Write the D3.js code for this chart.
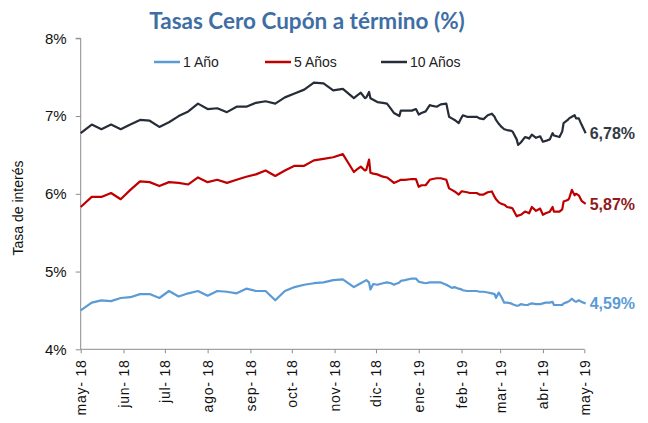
<!DOCTYPE html>
<html><head><meta charset="utf-8">
<script src="https://cdn.jsdelivr.net/npm/d3@7"></script>
<style>
html,body{margin:0;padding:0;background:#fff;}
svg{display:block;}
</style></head>
<body>
<svg id="chart" width="648" height="423"></svg>
<script>
const dates = [
"2018-05-01","2018-05-09","2018-05-16","2018-05-23","2018-05-30","2018-06-06","2018-06-13","2018-06-20","2018-06-27",
"2018-07-04","2018-07-11","2018-07-18","2018-07-25","2018-08-01","2018-08-08","2018-08-15","2018-08-22","2018-08-29",
"2018-09-05","2018-09-12","2018-09-19","2018-09-26","2018-10-03","2018-10-10","2018-10-17","2018-10-24","2018-10-31","2018-11-07",
"2018-11-15","2018-11-17","2018-11-20","2018-11-23","2018-11-24","2018-11-26","2018-11-27","2018-11-29","2018-12-02","2018-12-06",
"2018-12-09","2018-12-12","2018-12-14","2018-12-18","2018-12-19","2018-12-22","2018-12-27","2018-12-30","2019-01-01","2019-01-03",
"2019-01-06","2019-01-09","2019-01-11","2019-01-14","2019-01-17","2019-01-21","2019-01-23","2019-01-25","2019-01-27","2019-01-30",
"2019-02-01","2019-02-02","2019-02-05","2019-02-07","2019-02-12","2019-02-14","2019-02-17","2019-02-20","2019-02-23","2019-02-25",
"2019-02-26","2019-02-28","2019-03-02","2019-03-04","2019-03-06","2019-03-09","2019-03-10","2019-03-13","2019-03-14","2019-03-16",
"2019-03-19","2019-03-21","2019-03-22","2019-03-24","2019-03-27","2019-03-30","2019-04-01","2019-04-03","2019-04-06","2019-04-08",
"2019-04-09","2019-04-13","2019-04-15","2019-04-16","2019-04-19","2019-04-20","2019-04-22","2019-04-24","2019-04-25","2019-04-27",
"2019-04-29","2019-05-02"
];
const tasa10 = [
6.78,6.89,6.83,6.89,6.83,6.89,6.95,6.94,6.86,
6.92,7.00,7.06,7.16,7.09,7.10,7.05,7.12,7.12,
7.17,7.19,7.16,7.24,7.29,7.34,7.43,7.42,7.33,7.35,
7.23,7.26,7.30,7.23,7.24,7.31,7.23,7.21,7.18,7.17,
7.16,7.09,7.04,7.00,7.07,7.07,7.07,7.09,7.02,7.04,
7.06,7.14,7.13,7.12,7.15,7.16,6.99,6.97,6.95,6.91,
6.98,7.01,6.99,6.99,6.99,6.97,6.96,7.01,7.03,6.99,
6.95,6.90,6.86,6.83,6.82,6.81,6.80,6.70,6.63,6.66,
6.73,6.72,6.71,6.76,6.72,6.74,6.67,6.68,6.70,6.78,
6.75,6.73,6.80,6.91,6.95,6.97,6.99,7.01,6.97,6.97,
6.89,6.78
];
const tasa5 = [
5.83,5.96,5.96,6.01,5.93,6.05,6.16,6.15,6.10,
6.15,6.14,6.12,6.21,6.15,6.18,6.14,6.18,6.22,
6.25,6.30,6.23,6.30,6.36,6.36,6.43,6.45,6.47,6.51,
6.28,6.31,6.35,6.30,6.31,6.44,6.27,6.26,6.25,6.22,
6.21,6.17,6.14,6.17,6.18,6.18,6.19,6.19,6.09,6.11,
6.11,6.18,6.19,6.20,6.20,6.18,6.07,6.05,6.03,5.99,
6.03,6.03,6.02,6.01,6.01,5.99,5.99,6.02,6.03,5.96,
5.93,5.89,5.87,5.86,5.83,5.82,5.81,5.71,5.72,5.73,
5.77,5.76,5.75,5.83,5.78,5.81,5.73,5.75,5.77,5.83,
5.77,5.77,5.80,5.90,5.92,5.94,6.05,5.98,6.00,5.98,
5.91,5.87
];
const tasa1 = [
4.50,4.60,4.63,4.62,4.66,4.67,4.71,4.71,4.66,
4.75,4.68,4.72,4.75,4.69,4.75,4.74,4.72,4.78,
4.75,4.75,4.63,4.75,4.80,4.83,4.85,4.86,4.89,4.90,
4.80,4.82,4.85,4.88,4.89,4.86,4.77,4.84,4.83,4.85,
4.86,4.85,4.83,4.86,4.88,4.89,4.91,4.91,4.87,4.86,
4.85,4.86,4.86,4.86,4.86,4.83,4.81,4.79,4.80,4.78,
4.77,4.76,4.75,4.75,4.75,4.74,4.74,4.73,4.72,4.71,
4.66,4.73,4.67,4.60,4.60,4.59,4.58,4.56,4.56,4.58,
4.57,4.57,4.58,4.59,4.58,4.58,4.59,4.60,4.60,4.61,
4.57,4.57,4.57,4.59,4.61,4.62,4.65,4.62,4.61,4.63,
4.61,4.59
];
const seriesNames = ["1 Año","5 Años","10 Años"];
const endLabels = ["4,59%","5,87%","6,78%"];
const monthLabels = ["may- 18","jun- 18","jul- 18","ago- 18","sep- 18","oct- 18","nov- 18","dic- 18","ene- 19","feb- 19","mar- 19","abr- 19","may- 19"];
const yTicks = [4,5,6,7,8];
const titleText = "Tasas Cero Cupón a término (%)";
const yAxisTitle = "Tasa de interés";

const colors = ["#5B9BD5","#C00000","#262D38"];
const labelColors = ["#5B9BD5","#8E1B1B","#333A44"];

const parse = d3.utcParse("%Y-%m-%d");
const dd = dates.map(parse);
const svg = d3.select("#chart");

const x = d3.scaleUtc().domain([parse("2018-05-01"), parse("2019-05-01")]).range([80.7, 584.3]);
const y = d3.scaleLinear().domain([4, 8]).range([349.3, 38.3]);

// title
svg.append("text").attr("x", 307).attr("y", 29).attr("text-anchor","middle")
  .attr("font-family","Lato, 'Open Sans', sans-serif").attr("font-weight","bold")
  .attr("font-size", 22.5).attr("fill","#3F6EA5").text(titleText);

// y axis
const yAxis = d3.axisLeft(y).tickValues(yTicks).tickSize(5).tickPadding(9).tickFormat(d => d + "%");
const gy = svg.append("g").attr("transform","translate(80.7,0)").call(yAxis);
gy.select(".domain").attr("stroke","#8C8C8C").attr("d", `M-5,${y(8)}H0V${y(4)}`);
gy.selectAll(".tick line").attr("stroke","#8C8C8C");
gy.selectAll(".tick text").attr("font-family","'Liberation Sans', Arial, sans-serif").attr("font-size",15).attr("fill","#111");

// x axis
const monthTicks = d3.utcMonth.range(parse("2018-05-01"), parse("2019-05-02"));
const xAxis = d3.axisBottom(x).tickValues(monthTicks).tickSize(4).tickPadding(0)
  .tickFormat((d,i) => monthLabels[i]);
const gx = svg.append("g").attr("transform",`translate(0,${y(4)})`).call(xAxis);
gx.select(".domain").attr("stroke","#8C8C8C").attr("d", `M${x.range()[0]},0H${x.range()[1]}`);
gx.selectAll(".tick line").attr("stroke","#8C8C8C");
gx.selectAll(".tick text")
  .attr("font-family","'Liberation Sans', Arial, sans-serif").attr("font-size",14).attr("fill","#111")
  .attr("letter-spacing","0.8px")
  .attr("text-anchor","end").attr("dy","0.35em")
  .attr("transform","translate(0,10) rotate(-90)").attr("y",0).attr("x",0);

// y axis title
svg.append("text").attr("transform","translate(23,208) rotate(-90)").attr("text-anchor","middle")
  .attr("font-family","'Liberation Sans', Arial, sans-serif").attr("font-size",14).attr("fill","#111")
  .text(yAxisTitle);

// lines
const allSeries = [tasa1, tasa5, tasa10];
const line = d3.line().x((d,i) => x(dd[i])).y(d => y(d));
allSeries.forEach((s,k) => {
  svg.append("path").datum(s).attr("d", line).attr("fill","none")
    .attr("stroke", colors[k]).attr("stroke-width", 2.2).attr("stroke-linejoin","round");
});

// end labels
allSeries.forEach((s,k) => {
  const last = s.length - 1;
  svg.append("text").attr("x", x(dd[last]) + 4).attr("y", y(s[last])).attr("dy","0.35em")
    .attr("font-family","'Liberation Sans', Arial, sans-serif").attr("font-weight","bold")
    .attr("font-size",16).attr("fill",labelColors[k]).text(endLabels[k]);
});

// legend
const legX = [154, 265, 381];
seriesNames.forEach((n,k) => {
  const g = svg.append("g").attr("transform",`translate(${legX[k]},62)`);
  g.append("line").attr("x1",0).attr("x2",26).attr("y1",0).attr("y2",0)
    .attr("stroke",colors[k]).attr("stroke-width",2.5);
  g.append("text").attr("x",29).attr("y",0).attr("dy","0.35em")
    .attr("font-family","'Liberation Sans', Arial, sans-serif").attr("font-size",14).attr("fill","#222").text(n);
});
</script>
</body></html>
